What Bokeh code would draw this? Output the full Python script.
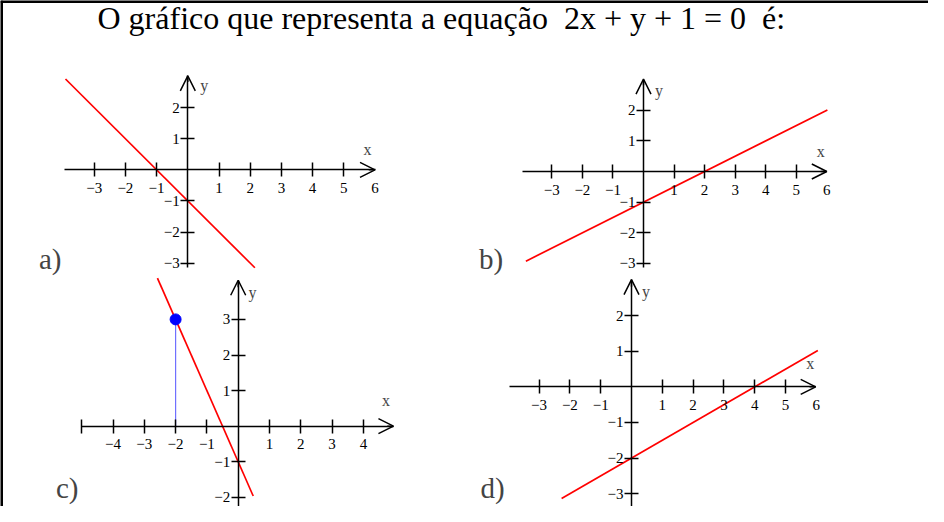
from bokeh.plotting import figure
from bokeh.models import Range1d, LinearAxis, FixedTicker, Arrow, OpenHead, Label, Span
from bokeh.embed import file_html
from bokeh.resources import INLINE

# ---------------- data ----------------
TITLE = "O gráfico que representa a equação\u00a0\u00a02x + y + 1 = 0\u00a0\u00a0é:"
PANEL_NAMES = ["a)", "b)", "c)", "d)"]

# red lines (end points), per panel
A_LINE_X = [-3.92, 2.15]
A_LINE_Y = [2.92, -3.15]
B_LINE_X = [-3.85, 6.02]
B_LINE_Y = [-2.93, 2.01]
C_LINE_X = [-2.58, 0.48]
C_LINE_Y = [4.16, -1.96]
D_LINE_X = [-2.27, 6.05]
D_LINE_Y = [-3.14, 1.02]

# highlighted point in panel c
C_POINT_X = [-2]
C_POINT_Y = [3]

# ticks and their labels
A_XTICKS = [-3, -2, -1, 1, 2, 3, 4, 5]
A_XLABELS = ["−3", "−2", "−1", "1", "2", "3", "4", "5"]
A_YTICKS = [-3, -2, -1, 1, 2]
A_YLABELS = ["−3", "−2", "−1", "1", "2"]
B_XTICKS = A_XTICKS
B_XLABELS = A_XLABELS
B_YTICKS = A_YTICKS
B_YLABELS = A_YLABELS
C_XTICKS = [-5, -4, -3, -2, -1, 1, 2, 3, 4]
C_XLABELS = ["", "−4", "−3", "−2", "−1", "1", "2", "3", "4"]
C_YTICKS = [-2, -1, 1, 2, 3]
C_YLABELS = ["−2", "−1", "1", "2", "3"]
D_XTICKS = A_XTICKS
D_XLABELS = A_XLABELS
D_YTICKS = A_YTICKS
D_YLABELS = A_YLABELS
END_XTICK = [6]
END_XLABEL = ["6"]

# ---------------- layout / style ----------------
W, H = 928, 506
FONT = "Liberation Serif"
RED = "#ff0000"
AXW = 1.5
BASE_SHIFT = 0.37  # offset (in em) between requested and drawn baseline


def baseline(y, size):
    return y - BASE_SHIFT * size


p = figure(width=W, height=H, output_backend="svg", toolbar_location=None,
           x_range=Range1d(0, W), y_range=Range1d(H, 0),
           x_axis_location=None, y_axis_location=None, min_border=0,
           outline_line_color=None, background_fill_color="white",
           border_fill_color="white")
p.grid.visible = False

# frame lines (top and left)
p.add_layout(Span(location=1, dimension="width", line_color="black", line_width=3))
p.add_layout(Span(location=1, dimension="height", line_color="black", line_width=3))

p.add_layout(Label(x=97, y=baseline(29, 32), text=TITLE, text_font=FONT,
                   text_font_size="32px", text_baseline="alphabetic", text_color="black"))

# panel geometry: origin (page px), unit (px), axis bounds, axis-name positions (data)
panels = [
    dict(name="a", ox=195.3, oy=177.3, ux=31.2, uy=31.1, xb=(-3.96, 6.0), yb=(-3.15, 3.02),
         xt=A_XTICKS, xl=A_XLABELS, yt=A_YTICKS, yl=A_YLABELS, end=True,
         lx=A_LINE_X, ly=A_LINE_Y, ylab=(0.53, 2.72), xlab=(5.76, 0.66),
         tag=(38.5, 269)),
    dict(name="b", ox=651.0, oy=179.0, ux=30.55, uy=30.6, xb=(-3.96, 6.0), yb=(-3.13, 3.02),
         xt=B_XTICKS, xl=B_XLABELS, yt=B_YTICKS, yl=B_YLABELS, end=True,
         lx=B_LINE_X, ly=B_LINE_Y, ylab=(0.51, 2.64), xlab=(5.8, 0.64),
         tag=(478.5, 269)),
    dict(name="c", ox=245.7, oy=433.7, ux=31.3, uy=35.6, xb=(-5.0, 4.96), yb=(-2.6, 4.1),
         xt=C_XTICKS, xl=C_XLABELS, yt=C_YTICKS, yl=C_YLABELS, end=False,
         lx=C_LINE_X, ly=C_LINE_Y, ylab=(0.46, 3.76), xlab=(4.72, 0.72),
         tag=(55.5, 498)),
    dict(name="d", ox=639.0, oy=394.3, ux=30.8, uy=35.6, xb=(-3.97, 5.98), yb=(-3.5, 3.01),
         xt=D_XTICKS, xl=D_XLABELS, yt=D_YTICKS, yl=D_YLABELS, end=True,
         lx=D_LINE_X, ly=D_LINE_Y, ylab=(0.47, 2.68), xlab=(5.8, 0.66),
         tag=(480.0, 498)),
]

for k, P in enumerate(panels):
    cx0, cy0 = P["ox"] - 8, P["oy"] - 8
    xn, yn = "x" + P["name"], "y" + P["name"]
    p.extra_x_ranges[xn] = Range1d(-cx0 / P["ux"], (W - cx0) / P["ux"])
    p.extra_y_ranges[yn] = Range1d((cy0 - H) / P["uy"], cy0 / P["uy"])
    common = dict(x_range_name=xn, y_range_name=yn, fixed_location=0,
                  axis_line_color="black", axis_line_width=AXW,
                  major_tick_line_color="black", major_tick_line_width=AXW,
                  major_tick_in=7, major_tick_out=7,
                  minor_tick_line_color=None,
                  major_label_text_font=FONT, major_label_text_font_size="15px",
                  major_label_text_color="black")
    xa = LinearAxis(bounds=P["xb"], ticker=FixedTicker(ticks=P["xt"], minor_ticks=[]),
                    major_label_overrides={float(t): s for t, s in zip(P["xt"], P["xl"])},
                    major_label_standoff=6, **common)
    p.add_layout(xa, "below")
    ya = LinearAxis(bounds=P["yb"], ticker=FixedTicker(ticks=P["yt"], minor_ticks=[]),
                    major_label_overrides={float(t): s for t, s in zip(P["yt"], P["yl"])},
                    major_label_standoff=1, **common)
    p.add_layout(ya, "left")
    if P["end"]:
        ea = LinearAxis(bounds=P["xb"], ticker=FixedTicker(ticks=END_XTICK, minor_ticks=[]),
                        major_label_overrides={float(t): s for t, s in zip(END_XTICK, END_XLABEL)},
                        major_label_standoff=6,
                        **{**common, "axis_line_color": None, "major_tick_line_color": None})
        p.add_layout(ea, "below")
    # arrow heads
    p.add_layout(Arrow(end=OpenHead(size=15, line_width=AXW, line_color="black"),
                       x_start=P["xb"][1] - 0.2, y_start=0, x_end=P["xb"][1], y_end=0,
                       line_color="black", line_width=AXW, x_range_name=xn, y_range_name=yn))
    p.add_layout(Arrow(end=OpenHead(size=15, line_width=AXW, line_color="black"),
                       x_start=0, y_start=P["yb"][1] - 0.2, x_end=0, y_end=P["yb"][1],
                       line_color="black", line_width=AXW, x_range_name=xn, y_range_name=yn))
    # axis names
    p.add_layout(Label(x=P["ylab"][0], y=P["ylab"][1], text="y", text_font=FONT,
                       text_font_size="16px", text_align="center", text_baseline="middle",
                       x_range_name=xn, y_range_name=yn))
    p.add_layout(Label(x=P["xlab"][0], y=P["xlab"][1], text="x", text_font=FONT,
                       text_font_size="16px", text_align="center", text_baseline="middle",
                       x_range_name=xn, y_range_name=yn))
    # panel tag
    p.add_layout(Label(x=P["tag"][0], y=baseline(P["tag"][1], 29), text=PANEL_NAMES[k],
                       text_font=FONT, text_font_size="29px", text_baseline="alphabetic"))
    if P["name"] == "c":
        p.segment(x0=C_POINT_X, y0=[0], x1=C_POINT_X, y1=C_POINT_Y, line_color="#7070ff",
                  line_width=1.2, x_range_name=xn, y_range_name=yn)
    p.line(P["lx"], P["ly"], line_color=RED, line_width=1.7, x_range_name=xn, y_range_name=yn)
    if P["name"] == "c":
        p.scatter(C_POINT_X, C_POINT_Y, size=11, color="#0000ff", x_range_name=xn, y_range_name=yn)

open("out.html", "w").write(file_html(p, INLINE))
